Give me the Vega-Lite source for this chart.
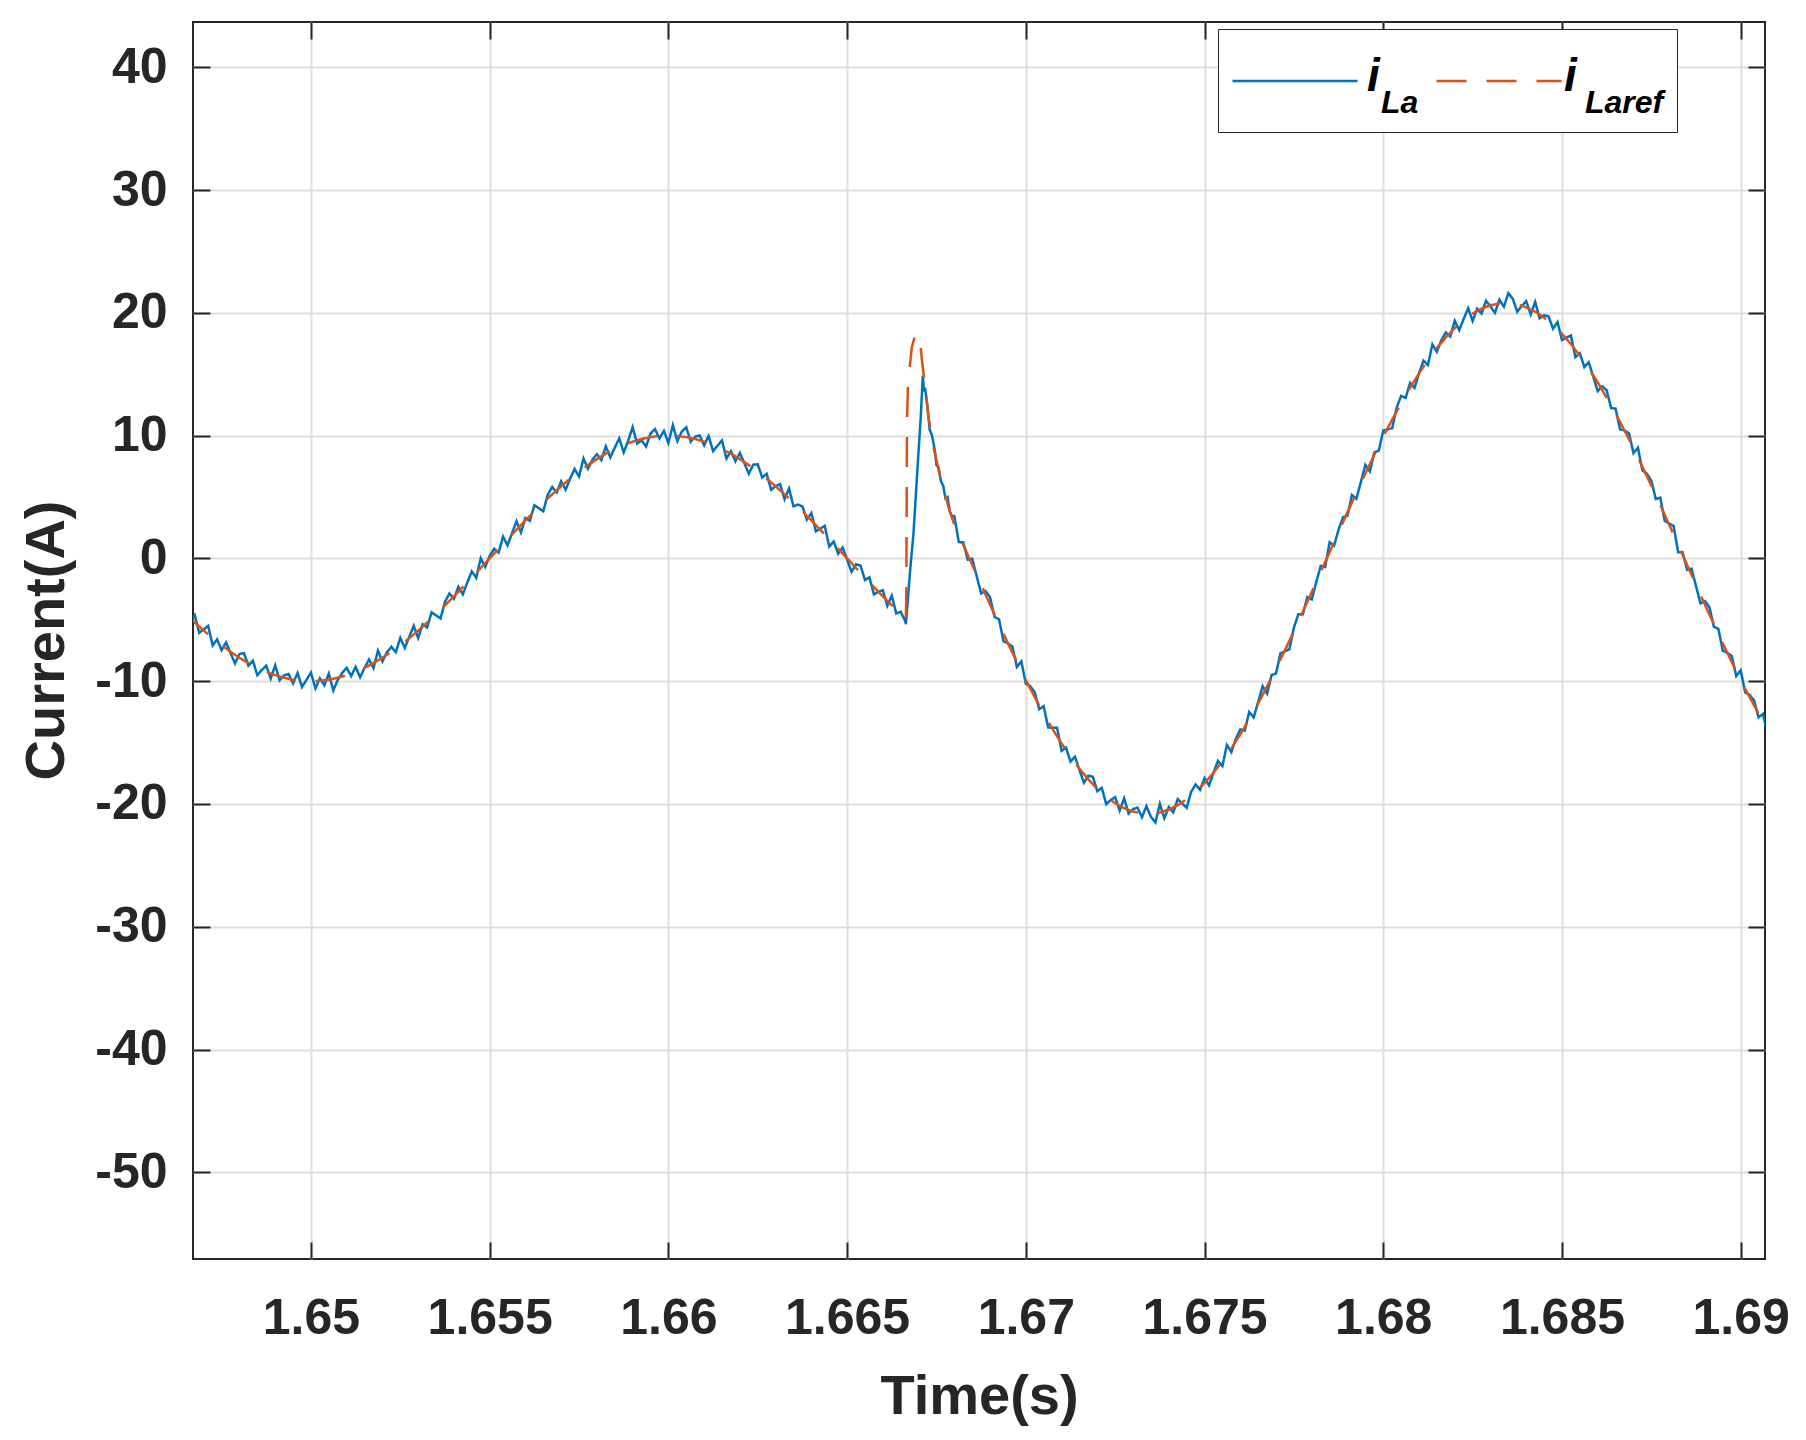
{
 "$schema": "https://vega.github.io/schema/vega-lite/v6.json",
 "width": 1572,
 "height": 1237,
 "autosize": {"type": "none"},
 "padding": {"left": 193, "top": 22, "right": 41, "bottom": 181},
 "background": "white",
 "config": {
  "font": "Liberation Sans",
  "view": {"stroke": "#262626", "strokeWidth": 2},
  "axis": {
   "labelFont": "Liberation Sans", "labelFontWeight": "bold", "labelFontSize": 50, "labelColor": "#262626",
   "titleFont": "Liberation Sans", "titleFontWeight": "bold", "titleFontSize": 56, "titleColor": "#262626",
   "tickColor": "#262626", "tickWidth": 2, "tickSize": -17, "domain": false,
   "gridColor": "#dedede", "gridWidth": 2
  }
 },
 "datasets": {
  "iLa": [
{"t":1.6465,"v":-4.14},{"t":1.646625,"v":-5.19},{"t":1.64675,"v":-4.62},{"t":1.646875,"v":-6.06},{"t":1.647,"v":-5.78},{"t":1.647125,"v":-5.49},{"t":1.64725,"v":-7.09},{"t":1.647375,"v":-6.59},{"t":1.6475,"v":-7.47},{"t":1.647625,"v":-6.84},{"t":1.64775,"v":-7.7},{"t":1.647875,"v":-8.55},{"t":1.648,"v":-7.79},{"t":1.648125,"v":-7.71},{"t":1.64825,"v":-8.73},{"t":1.648375,"v":-8.33},{"t":1.6485,"v":-9.51},{"t":1.648625,"v":-9.08},{"t":1.64875,"v":-8.74},{"t":1.648875,"v":-9.78},{"t":1.649,"v":-8.71},{"t":1.649125,"v":-9.92},{"t":1.64925,"v":-9.52},{"t":1.649375,"v":-9.41},{"t":1.6495,"v":-10.18},{"t":1.649625,"v":-9.33},{"t":1.64975,"v":-10.47},{"t":1.649875,"v":-9.89},{"t":1.65,"v":-9.3},{"t":1.650125,"v":-10.59},{"t":1.65025,"v":-9.77},{"t":1.650375,"v":-10.33},{"t":1.6505,"v":-9.38},{"t":1.650625,"v":-10.75},{"t":1.65075,"v":-9.9},{"t":1.650875,"v":-9.32},{"t":1.651,"v":-8.91},{"t":1.651125,"v":-9.58},{"t":1.65125,"v":-8.84},{"t":1.651375,"v":-9.68},{"t":1.6515,"v":-8.91},{"t":1.651625,"v":-8.23},{"t":1.65175,"v":-8.93},{"t":1.651875,"v":-7.51},{"t":1.652,"v":-8.39},{"t":1.652125,"v":-7.65},{"t":1.65225,"v":-7.2},{"t":1.652375,"v":-7.64},{"t":1.6525,"v":-6.47},{"t":1.652625,"v":-7.29},{"t":1.65275,"v":-6.39},{"t":1.652875,"v":-5.49},{"t":1.653,"v":-6.48},{"t":1.653125,"v":-5.36},{"t":1.65325,"v":-5.62},{"t":1.653375,"v":-4.39},{"t":1.6535,"v":-4.64},{"t":1.653625,"v":-4.89},{"t":1.65375,"v":-3.53},{"t":1.653875,"v":-2.86},{"t":1.654,"v":-3.29},{"t":1.654125,"v":-2.31},{"t":1.65425,"v":-2.93},{"t":1.654375,"v":-1.95},{"t":1.6545,"v":-1.06},{"t":1.654625,"v":-1.58},{"t":1.65475,"v":0.02},{"t":1.654875,"v":-0.69},{"t":1.655,"v":0.2},{"t":1.655125,"v":0.79},{"t":1.65525,"v":0.48},{"t":1.655375,"v":1.78},{"t":1.6555,"v":1.06},{"t":1.655625,"v":2.05},{"t":1.65575,"v":3.03},{"t":1.655875,"v":2.11},{"t":1.656,"v":3.29},{"t":1.656125,"v":3.06},{"t":1.65625,"v":4.33},{"t":1.656375,"v":4.09},{"t":1.6565,"v":3.84},{"t":1.656625,"v":5.19},{"t":1.65675,"v":5.82},{"t":1.656875,"v":5.36},{"t":1.657,"v":6.28},{"t":1.657125,"v":5.59},{"t":1.65725,"v":6.49},{"t":1.657375,"v":7.29},{"t":1.6575,"v":6.67},{"t":1.657625,"v":8.14},{"t":1.65775,"v":7.3},{"t":1.657875,"v":8.05},{"t":1.658,"v":8.49},{"t":1.658125,"v":8.01},{"t":1.65825,"v":9.13},{"t":1.658375,"v":8.23},{"t":1.6585,"v":9.01},{"t":1.658625,"v":9.78},{"t":1.65875,"v":8.64},{"t":1.658875,"v":9.58},{"t":1.659,"v":10.7},{"t":1.659125,"v":9.35},{"t":1.65925,"v":9.62},{"t":1.659375,"v":9.11},{"t":1.6595,"v":10.18},{"t":1.659625,"v":10.53},{"t":1.65975,"v":9.77},{"t":1.659875,"v":10.39},{"t":1.66,"v":9.4},{"t":1.660125,"v":10.85},{"t":1.66025,"v":9.55},{"t":1.660375,"v":10.33},{"t":1.6605,"v":10.68},{"t":1.660625,"v":9.51},{"t":1.66075,"v":9.92},{"t":1.660875,"v":10.02},{"t":1.661,"v":9.21},{"t":1.661125,"v":9.98},{"t":1.66125,"v":8.74},{"t":1.661375,"v":9.18},{"t":1.6615,"v":9.61},{"t":1.661625,"v":8.13},{"t":1.66175,"v":8.73},{"t":1.661875,"v":7.91},{"t":1.662,"v":8.59},{"t":1.662125,"v":7.75},{"t":1.66225,"v":6.9},{"t":1.662375,"v":7.64},{"t":1.6625,"v":7.67},{"t":1.662625,"v":6.59},{"t":1.66275,"v":6.89},{"t":1.662875,"v":5.59},{"t":1.663,"v":5.88},{"t":1.663125,"v":6.06},{"t":1.66325,"v":4.82},{"t":1.663375,"v":5.69},{"t":1.6635,"v":4.24},{"t":1.663625,"v":4.39},{"t":1.66375,"v":4.23},{"t":1.663875,"v":3.16},{"t":1.664,"v":3.69},{"t":1.664125,"v":2.21},{"t":1.66425,"v":2.43},{"t":1.664375,"v":2.65},{"t":1.6645,"v":0.96},{"t":1.664625,"v":1.38},{"t":1.66475,"v":0.38},{"t":1.664875,"v":0.89},{"t":1.665,"v":-0.1},{"t":1.665125,"v":-1.09},{"t":1.66525,"v":-0.48},{"t":1.665375,"v":-0.58},{"t":1.6655,"v":-1.76},{"t":1.665625,"v":-1.55},{"t":1.66575,"v":-2.93},{"t":1.665875,"v":-2.71},{"t":1.666,"v":-2.59},{"t":1.666125,"v":-3.86},{"t":1.66625,"v":-3.03},{"t":1.666375,"v":-4.49},{"t":1.6665,"v":-4.34},{"t":1.666625,"v":-5.1},{"t":1.666645,"v":-5.35},{"t":1.666764,"v":-0.95},{"t":1.666856,"v":2.0},{"t":1.666996,"v":8.6},{"t":1.66706,"v":11.5},{"t":1.667119,"v":14.9},{"t":1.66715,"v":13.6},{"t":1.66718,"v":13.9},{"t":1.66724,"v":12.6},{"t":1.66731,"v":10.5},{"t":1.667375,"v":10.0},{"t":1.66745,"v":8.9},{"t":1.6675,"v":7.6},{"t":1.66756,"v":7.4},{"t":1.667625,"v":6.3},{"t":1.66769,"v":5.9},{"t":1.66775,"v":4.9},{"t":1.66781,"v":5.0},{"t":1.667875,"v":3.8},{"t":1.66794,"v":3.4},
{"t":1.668,"v":3.44},{"t":1.668125,"v":1.33},{"t":1.66825,"v":1.31},{"t":1.668375,"v":-0.1},{"t":1.6685,"v":-0.02},{"t":1.668625,"v":-1.44},{"t":1.66875,"v":-2.85},{"t":1.668875,"v":-2.66},{"t":1.669,"v":-3.17},{"t":1.669125,"v":-4.77},{"t":1.66925,"v":-4.96},{"t":1.669375,"v":-6.74},{"t":1.6695,"v":-6.92},{"t":1.669625,"v":-7.18},{"t":1.66975,"v":-8.84},{"t":1.669875,"v":-8.38},{"t":1.67,"v":-10.21},{"t":1.670125,"v":-10.41},{"t":1.67025,"v":-10.91},{"t":1.670375,"v":-12.28},{"t":1.6705,"v":-12.04},{"t":1.670625,"v":-13.77},{"t":1.67075,"v":-13.8},{"t":1.670875,"v":-13.79},{"t":1.671,"v":-15.67},{"t":1.671125,"v":-15.41},{"t":1.67125,"v":-16.55},{"t":1.671375,"v":-16.14},{"t":1.6715,"v":-17.23},{"t":1.671625,"v":-18.27},{"t":1.67175,"v":-17.7},{"t":1.671875,"v":-17.78},{"t":1.672,"v":-18.96},{"t":1.672125,"v":-18.69},{"t":1.67225,"v":-20.01},{"t":1.672375,"v":-19.68},{"t":1.6725,"v":-19.44},{"t":1.672625,"v":-20.54},{"t":1.67275,"v":-19.54},{"t":1.672875,"v":-20.78},{"t":1.673,"v":-20.42},{"t":1.673125,"v":-20.3},{"t":1.67325,"v":-21.07},{"t":1.673375,"v":-20.18},{"t":1.6735,"v":-21.05},{"t":1.673625,"v":-21.5},{"t":1.67375,"v":-19.99},{"t":1.673875,"v":-21.17},{"t":1.674,"v":-20.25},{"t":1.674125,"v":-20.68},{"t":1.67425,"v":-19.6},{"t":1.674375,"v":-19.96},{"t":1.6745,"v":-20.31},{"t":1.674625,"v":-19.01},{"t":1.67475,"v":-18.41},{"t":1.674875,"v":-18.85},{"t":1.675,"v":-17.89},{"t":1.675125,"v":-18.48},{"t":1.67525,"v":-17.46},{"t":1.675375,"v":-16.49},{"t":1.6755,"v":-16.91},{"t":1.675625,"v":-15.19},{"t":1.67575,"v":-15.77},{"t":1.675875,"v":-14.7},{"t":1.676,"v":-13.93},{"t":1.676125,"v":-14.02},{"t":1.67625,"v":-12.5},{"t":1.676375,"v":-12.95},{"t":1.6765,"v":-11.7},{"t":1.676625,"v":-10.41},{"t":1.67675,"v":-11.02},{"t":1.676875,"v":-9.5},{"t":1.677,"v":-9.37},{"t":1.677125,"v":-7.72},{"t":1.67725,"v":-7.57},{"t":1.677375,"v":-7.4},{"t":1.6775,"v":-5.63},{"t":1.677625,"v":-4.54},{"t":1.67775,"v":-4.55},{"t":1.677875,"v":-3.15},{"t":1.678,"v":-3.34},{"t":1.678125,"v":-1.93},{"t":1.67825,"v":-0.61},{"t":1.678375,"v":-0.7},{"t":1.6785,"v":1.32},{"t":1.678625,"v":1.04},{"t":1.67875,"v":2.35},{"t":1.678875,"v":3.36},{"t":1.679,"v":3.47},{"t":1.679125,"v":5.17},{"t":1.67925,"v":4.86},{"t":1.679375,"v":6.24},{"t":1.6795,"v":7.62},{"t":1.679625,"v":7.08},{"t":1.67975,"v":8.64},{"t":1.679875,"v":8.78},{"t":1.68,"v":10.41},{"t":1.680125,"v":10.51},{"t":1.68025,"v":10.61},{"t":1.680375,"v":12.28},{"t":1.6805,"v":13.24},{"t":1.680625,"v":13.07},{"t":1.68075,"v":14.3},{"t":1.680875,"v":13.89},{"t":1.681,"v":15.07},{"t":1.681125,"v":16.11},{"t":1.68125,"v":15.75},{"t":1.681375,"v":17.44},{"t":1.6815,"v":16.83},{"t":1.681625,"v":17.77},{"t":1.68175,"v":18.4},{"t":1.681875,"v":18.08},{"t":1.682,"v":19.36},{"t":1.682125,"v":18.59},{"t":1.68225,"v":19.51},{"t":1.682375,"v":20.38},{"t":1.6825,"v":19.34},{"t":1.682625,"v":20.34},{"t":1.68275,"v":19.94},{"t":1.682875,"v":20.98},{"t":1.683,"v":20.52},{"t":1.683125,"v":20.0},{"t":1.68325,"v":21.07},{"t":1.683375,"v":20.5},{"t":1.6835,"v":21.6},{"t":1.683625,"v":21.14},{"t":1.68375,"v":20.09},{"t":1.683875,"v":20.57},{"t":1.684,"v":20.95},{"t":1.684125,"v":19.88},{"t":1.68425,"v":20.9},{"t":1.684375,"v":19.56},{"t":1.6845,"v":19.81},{"t":1.684625,"v":19.71},{"t":1.68475,"v":18.71},{"t":1.684875,"v":19.25},{"t":1.685,"v":17.79},{"t":1.685125,"v":17.98},{"t":1.68525,"v":18.16},{"t":1.685375,"v":16.39},{"t":1.6855,"v":16.71},{"t":1.685625,"v":15.59},{"t":1.68575,"v":15.97},{"t":1.685875,"v":14.8},{"t":1.686,"v":13.63},{"t":1.686125,"v":14.02},{"t":1.68625,"v":13.7},{"t":1.686375,"v":12.25},{"t":1.6865,"v":12.2},{"t":1.686625,"v":10.51},{"t":1.68675,"v":10.42},{"t":1.686875,"v":10.2},{"t":1.687,"v":8.57},{"t":1.687125,"v":9.02},{"t":1.68725,"v":7.17},{"t":1.687375,"v":6.9},{"t":1.6875,"v":6.33},{"t":1.687625,"v":4.84},{"t":1.68775,"v":4.95},{"t":1.687875,"v":3.05},{"t":1.688,"v":2.84},{"t":1.688125,"v":2.63},{"t":1.68825,"v":0.51},{"t":1.688375,"v":0.5},{"t":1.6885,"v":-0.92},{"t":1.688625,"v":-0.84},{"t":1.68875,"v":-2.25},{"t":1.688875,"v":-3.66},{"t":1.689,"v":-3.47},{"t":1.689125,"v":-3.97},{"t":1.68925,"v":-5.56},{"t":1.689375,"v":-5.74},{"t":1.6895,"v":-7.52},{"t":1.689625,"v":-7.68},{"t":1.68975,"v":-7.94},{"t":1.689875,"v":-9.58},{"t":1.69,"v":-9.11},{"t":1.690125,"v":-10.91},{"t":1.69025,"v":-11.11},{"t":1.690375,"v":-11.58},{"t":1.6905,"v":-12.94},{"t":1.690625,"v":-12.67},{"t":1.69075,"v":-14.4},{"t":1.690875,"v":-14.39},{"t":1.691,"v":-14.37}
  ],
  "iLaref": [
{"t":1.6465,"v":-4.54},{"t":1.64675,"v":-5.22},{"t":1.647,"v":-5.88},{"t":1.64725,"v":-6.49},{"t":1.6475,"v":-7.07},{"t":1.64775,"v":-7.6},{"t":1.648,"v":-8.09},{"t":1.64825,"v":-8.53},{"t":1.6485,"v":-8.91},{"t":1.64875,"v":-9.24},{"t":1.649,"v":-9.51},{"t":1.64925,"v":-9.72},{"t":1.6495,"v":-9.88},{"t":1.64975,"v":-9.97},{"t":1.65,"v":-10.0},{"t":1.65025,"v":-9.97},{"t":1.6505,"v":-9.88},{"t":1.65075,"v":-9.72},{"t":1.651,"v":-9.51},{"t":1.65125,"v":-9.24},{"t":1.6515,"v":-8.91},{"t":1.65175,"v":-8.53},{"t":1.652,"v":-8.09},{"t":1.65225,"v":-7.6},{"t":1.6525,"v":-7.07},{"t":1.65275,"v":-6.49},{"t":1.653,"v":-5.88},{"t":1.65325,"v":-5.22},{"t":1.6535,"v":-4.54},{"t":1.65375,"v":-3.83},{"t":1.654,"v":-3.09},{"t":1.65425,"v":-2.33},{"t":1.6545,"v":-1.56},{"t":1.65475,"v":-0.78},{"t":1.655,"v":0.0},{"t":1.65525,"v":0.78},{"t":1.6555,"v":1.56},{"t":1.65575,"v":2.33},{"t":1.656,"v":3.09},{"t":1.65625,"v":3.83},{"t":1.6565,"v":4.54},{"t":1.65675,"v":5.22},{"t":1.657,"v":5.88},{"t":1.65725,"v":6.49},{"t":1.6575,"v":7.07},{"t":1.65775,"v":7.6},{"t":1.658,"v":8.09},{"t":1.65825,"v":8.53},{"t":1.6585,"v":8.91},{"t":1.65875,"v":9.24},{"t":1.659,"v":9.51},{"t":1.65925,"v":9.72},{"t":1.6595,"v":9.88},{"t":1.65975,"v":9.97},{"t":1.66,"v":10.0},{"t":1.66025,"v":9.97},{"t":1.6605,"v":9.88},{"t":1.66075,"v":9.72},{"t":1.661,"v":9.51},{"t":1.66125,"v":9.24},{"t":1.6615,"v":8.91},{"t":1.66175,"v":8.53},{"t":1.662,"v":8.09},{"t":1.66225,"v":7.6},{"t":1.6625,"v":7.07},{"t":1.66275,"v":6.49},{"t":1.663,"v":5.88},{"t":1.66325,"v":5.22},{"t":1.6635,"v":4.54},{"t":1.66375,"v":3.83},{"t":1.664,"v":3.09},{"t":1.66425,"v":2.33},{"t":1.6645,"v":1.56},{"t":1.66475,"v":0.78},{"t":1.665,"v":0.0},{"t":1.66525,"v":-0.78},{"t":1.6655,"v":-1.56},{"t":1.66575,"v":-2.33},{"t":1.666,"v":-3.09},{"t":1.66625,"v":-3.83},{"t":1.6665,"v":-4.54},{"t":1.66664,"v":-4.92},
{"t":1.666655,"v":-3.5},{"t":1.666668,"v":5.0},{"t":1.666675,"v":11.0},{"t":1.6667,"v":14.0},{"t":1.666764,"v":15.9},{"t":1.666811,"v":17.2},{"t":1.666904,"v":18.2},{"t":1.666951,"v":18.3},{"t":1.666996,"v":18.2},{"t":1.66705,"v":17.5},{"t":1.667091,"v":16.2},{"t":1.667183,"v":14.0},{"t":1.667276,"v":11.5},{"t":1.667416,"v":9.1},{"t":1.667603,"v":6.65},{"t":1.667835,"v":4.2},
{"t":1.668,"v":2.74},{"t":1.66825,"v":1.11},{"t":1.6685,"v":-0.52},{"t":1.66875,"v":-2.15},{"t":1.669,"v":-3.77},{"t":1.66925,"v":-5.36},{"t":1.6695,"v":-6.92},{"t":1.66975,"v":-8.44},{"t":1.67,"v":-9.91},{"t":1.67025,"v":-11.31},{"t":1.6705,"v":-12.64},{"t":1.67075,"v":-13.9},{"t":1.671,"v":-15.07},{"t":1.67125,"v":-16.15},{"t":1.6715,"v":-17.13},{"t":1.67175,"v":-18.0},{"t":1.672,"v":-18.76},{"t":1.67225,"v":-19.41},{"t":1.6725,"v":-19.94},{"t":1.67275,"v":-20.34},{"t":1.673,"v":-20.62},{"t":1.67325,"v":-20.77},{"t":1.6735,"v":-20.79},{"t":1.67375,"v":-20.69},{"t":1.674,"v":-20.45},{"t":1.67425,"v":-20.1},{"t":1.6745,"v":-19.61},{"t":1.67475,"v":-19.01},{"t":1.675,"v":-18.29},{"t":1.67525,"v":-17.46},{"t":1.6755,"v":-16.51},{"t":1.67575,"v":-15.47},{"t":1.676,"v":-14.33},{"t":1.67625,"v":-13.1},{"t":1.6765,"v":-11.8},{"t":1.67675,"v":-10.42},{"t":1.677,"v":-8.97},{"t":1.67725,"v":-7.47},{"t":1.6775,"v":-5.93},{"t":1.67775,"v":-4.35},{"t":1.678,"v":-2.74},{"t":1.67825,"v":-1.11},{"t":1.6785,"v":0.52},{"t":1.67875,"v":2.15},{"t":1.679,"v":3.77},{"t":1.67925,"v":5.36},{"t":1.6795,"v":6.92},{"t":1.67975,"v":8.44},{"t":1.68,"v":9.91},{"t":1.68025,"v":11.31},{"t":1.6805,"v":12.64},{"t":1.68075,"v":13.9},{"t":1.681,"v":15.07},{"t":1.68125,"v":16.15},{"t":1.6815,"v":17.13},{"t":1.68175,"v":18.0},{"t":1.682,"v":18.76},{"t":1.68225,"v":19.41},{"t":1.6825,"v":19.94},{"t":1.68275,"v":20.34},{"t":1.683,"v":20.62},{"t":1.68325,"v":20.77},{"t":1.6835,"v":20.79},{"t":1.68375,"v":20.69},{"t":1.684,"v":20.45},{"t":1.68425,"v":20.1},{"t":1.6845,"v":19.61},{"t":1.68475,"v":19.01},{"t":1.685,"v":18.29},{"t":1.68525,"v":17.46},{"t":1.6855,"v":16.51},{"t":1.68575,"v":15.47},{"t":1.686,"v":14.33},{"t":1.68625,"v":13.1},{"t":1.6865,"v":11.8},{"t":1.68675,"v":10.42},{"t":1.687,"v":8.97},{"t":1.68725,"v":7.47},{"t":1.6875,"v":5.93},{"t":1.68775,"v":4.35},{"t":1.688,"v":2.74},{"t":1.68825,"v":1.11},{"t":1.6885,"v":-0.52},{"t":1.68875,"v":-2.15},{"t":1.689,"v":-3.77},{"t":1.68925,"v":-5.36},{"t":1.6895,"v":-6.92},{"t":1.68975,"v":-8.44},{"t":1.69,"v":-9.91},{"t":1.69025,"v":-11.31},{"t":1.6905,"v":-12.64},{"t":1.69075,"v":-13.9},{"t":1.691,"v":-15.07}
  ]
 },
 "layer": [
  {
   "data": {"name": "iLa"},
   "mark": {"type": "line", "strokeWidth": 2.5, "clip": true},
   "encoding": {
    "x": {"field": "t", "type": "quantitative",
     "scale": {"domain": [1.6467, 1.69068], "nice": false, "zero": false},
     "axis": {"orient": "bottom", "values": [1.65, 1.655, 1.66, 1.665, 1.67, 1.675, 1.68, 1.685, 1.69],
      "labelExpr": "'' + datum.value", "title": "Time(s)", "grid": true,
      "labelPadding": 91, "labelBaseline": "alphabetic", "labelFlush": false,
      "titleY": 154, "titleBaseline": "alphabetic"}},
    "y": {"field": "v", "type": "quantitative",
     "scale": {"domain": [-57.06, 43.69], "nice": false, "zero": false},
     "axis": {"orient": "left", "values": [-50, -40, -30, -20, -10, 0, 10, 20, 30, 40],
      "labelExpr": "'' + datum.value", "title": "Current(A)", "grid": true,
      "labelPadding": 43, "titleX": -130, "titleY": 618, "titleBaseline": "alphabetic", "titleAngle": 270}},
    "color": {"datum": "iLa", "type": "nominal",
     "scale": {"domain": ["iLa", "iLaref"], "range": ["#0072BD", "#D95319"]},
     "legend": {"orient": "none", "legendX": 1025, "legendY": 7, "direction": "horizontal", "columns": 2,
      "title": null, "symbolType": "M-1,0H2.3333", "symbolSize": 5625, "symbolStrokeWidth": 2.5,
      "labelFont": "Liberation Sans", "labelFontSize": 32, "labelFontStyle": "italic", "labelFontWeight": "bold",
      "labelColor": "#000000", "labelOffset": 72, "columnPadding": 12, "padding": 13, "labelLimit": 400,
      "labelBaseline": "alphabetic", "strokeColor": "#262626", "fillColor": "#ffffff",
      "labelExpr": "datum.label == 'iLa' ? 'La' : 'Laref'",
      "encode": {"labels": {"update": {"dy": {"value": 32}}}}}},
    "strokeDash": {"datum": "iLa", "type": "nominal",
     "scale": {"domain": ["iLa", "iLaref"], "range": [[1, 0], [30, 20]]},
     "legend": {"orient": "none", "legendX": 1025, "legendY": 7, "direction": "horizontal", "columns": 2,
      "title": null, "symbolType": "M-1,0H2.3333", "symbolSize": 5625, "symbolStrokeWidth": 2.5,
      "labelFont": "Liberation Sans", "labelFontSize": 32, "labelFontStyle": "italic", "labelFontWeight": "bold",
      "labelColor": "#000000", "labelOffset": 72, "columnPadding": 12, "padding": 13, "labelLimit": 400,
      "labelBaseline": "alphabetic", "strokeColor": "#262626", "fillColor": "#ffffff",
      "labelExpr": "datum.label == 'iLa' ? 'La' : 'Laref'",
      "encode": {"labels": {"update": {"dy": {"value": 32}}}}}},
    "opacity": {"datum": "i1", "type": "ordinal",
     "scale": {"type": "ordinal", "domain": ["i1", "i2"], "range": [1, 1]},
     "legend": {"orient": "none", "legendX": 1025, "legendY": 7, "direction": "horizontal", "columns": 2,
      "title": null, "symbolType": "M-1,0H2.3333", "symbolSize": 5625, "symbolStrokeWidth": 0,
      "symbolOpacity": 0, "symbolStrokeColor": "transparent", "symbolFillColor": "transparent",
      "labelFont": "Liberation Sans", "labelFontSize": 46, "labelFontStyle": "italic", "labelFontWeight": "bold",
      "labelColor": "#000000", "labelOffset": 61, "columnPadding": 48, "padding": 13, "labelLimit": 400,
      "labelBaseline": "alphabetic", "strokeColor": null, "fillColor": null,
      "labelExpr": "'i'",
      "encode": {"labels": {"update": {"dy": {"value": 11}}}, "symbols": {"update": {"opacity": {"value": 0}}}}}}
   }
  },
  {
   "data": {"name": "iLaref"},
   "mark": {"type": "line", "strokeWidth": 2.5, "clip": true},
   "encoding": {
    "x": {"field": "t", "type": "quantitative",
     "scale": {"domain": [1.6467, 1.69068], "nice": false, "zero": false},
     "axis": {"orient": "top", "values": [1.65, 1.655, 1.66, 1.665, 1.67, 1.675, 1.68, 1.685, 1.69],
      "labels": false, "grid": false, "title": null}},
    "y": {"field": "v", "type": "quantitative",
     "scale": {"domain": [-57.06, 43.69], "nice": false, "zero": false},
     "axis": {"orient": "right", "values": [-50, -40, -30, -20, -10, 0, 10, 20, 30, 40],
      "labels": false, "grid": false, "title": null}},
    "color": {"datum": "iLaref", "type": "nominal",
     "scale": {"domain": ["iLa", "iLaref"], "range": ["#0072BD", "#D95319"]},
     "legend": {"orient": "none", "legendX": 1025, "legendY": 7, "direction": "horizontal", "columns": 2,
      "title": null, "symbolType": "M-1,0H2.3333", "symbolSize": 5625, "symbolStrokeWidth": 2.5,
      "labelFont": "Liberation Sans", "labelFontSize": 32, "labelFontStyle": "italic", "labelFontWeight": "bold",
      "labelColor": "#000000", "labelOffset": 72, "columnPadding": 12, "padding": 13, "labelLimit": 400,
      "labelBaseline": "alphabetic", "strokeColor": "#262626", "fillColor": "#ffffff",
      "labelExpr": "datum.label == 'iLa' ? 'La' : 'Laref'",
      "encode": {"labels": {"update": {"dy": {"value": 32}}}}}},
    "strokeDash": {"datum": "iLaref", "type": "nominal",
     "scale": {"domain": ["iLa", "iLaref"], "range": [[1, 0], [30, 20]]},
     "legend": {"orient": "none", "legendX": 1025, "legendY": 7, "direction": "horizontal", "columns": 2,
      "title": null, "symbolType": "M-1,0H2.3333", "symbolSize": 5625, "symbolStrokeWidth": 2.5,
      "labelFont": "Liberation Sans", "labelFontSize": 32, "labelFontStyle": "italic", "labelFontWeight": "bold",
      "labelColor": "#000000", "labelOffset": 72, "columnPadding": 12, "padding": 13, "labelLimit": 400,
      "labelBaseline": "alphabetic", "strokeColor": "#262626", "fillColor": "#ffffff",
      "labelExpr": "datum.label == 'iLa' ? 'La' : 'Laref'",
      "encode": {"labels": {"update": {"dy": {"value": 32}}}}}},
    "opacity": {"datum": "i2", "type": "ordinal",
     "scale": {"type": "ordinal", "domain": ["i1", "i2"], "range": [1, 1]},
     "legend": {"orient": "none", "legendX": 1025, "legendY": 7, "direction": "horizontal", "columns": 2,
      "title": null, "symbolType": "M-1,0H2.3333", "symbolSize": 5625, "symbolStrokeWidth": 0,
      "symbolOpacity": 0, "symbolStrokeColor": "transparent", "symbolFillColor": "transparent",
      "labelFont": "Liberation Sans", "labelFontSize": 46, "labelFontStyle": "italic", "labelFontWeight": "bold",
      "labelColor": "#000000", "labelOffset": 61, "columnPadding": 48, "padding": 13, "labelLimit": 400,
      "labelBaseline": "alphabetic", "strokeColor": null, "fillColor": null,
      "labelExpr": "'i'",
      "encode": {"labels": {"update": {"dy": {"value": 11}}}, "symbols": {"update": {"opacity": {"value": 0}}}}}}
   }
  }
 ],
 "resolve": {"axis": {"x": "independent", "y": "independent"}}
}
